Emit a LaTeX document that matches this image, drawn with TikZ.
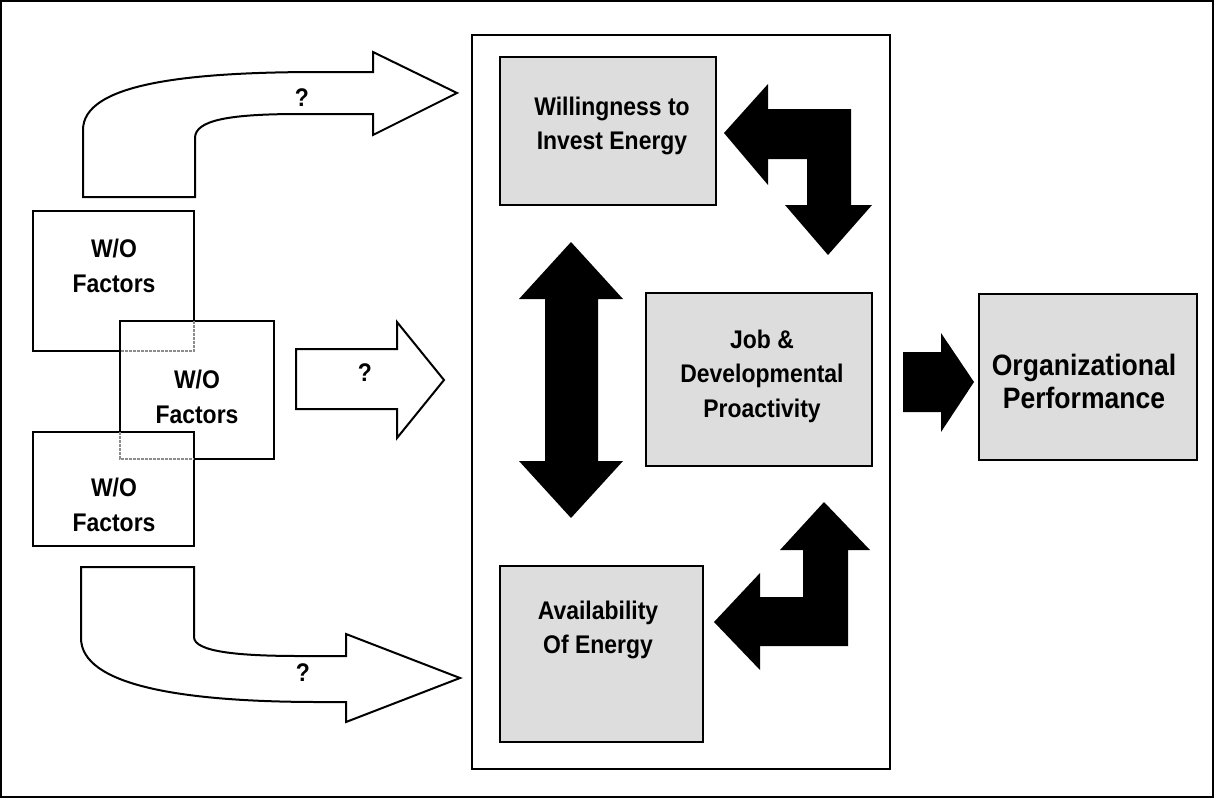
\documentclass[tikz,border=0pt]{standalone}
\usepackage{fontspec}
\setmainfont{Liberation Sans}
\newfontfamily\narrowsans{Liberation Sans}[FakeStretch=0.9]
\definecolor{boxgray}{RGB}{221,221,221}
\newcommand\diagfont{\narrowsans\bfseries\fontsize{25.5}{34.5}\selectfont}
\newcommand\orgfont{\narrowsans\bfseries\fontsize{29.5}{33}\selectfont}
\begin{document}
\begin{tikzpicture}[x=1pt,y=-1pt,
  frame/.style={draw=black, line width=2pt},
  box/.style={draw=black, line width=2pt, fill=white, outer sep=0pt, inner sep=0pt},
  graybox/.style={box, fill=boxgray},
  lbl/.style={align=center, font=\diagfont, inner sep=0pt},
  hollowarrow/.style={draw=black, line width=2pt, fill=white, line join=miter},
  solidarrow/.style={fill=black, draw=none},
  hidden/.style={draw=black!45, line width=1.5pt, dash pattern=on 3pt off 1pt}
]
\useasboundingbox (0,0) rectangle (1214,798);
\draw[frame] (1,1) rectangle (1213,797);

% central container
\node[box, fill=none, minimum width=418pt, minimum height=734pt] (core) at (681,402) {};

% stacked W/O factor boxes with their hidden edges
\node[box, minimum width=161pt, minimum height=140pt] (wo1) at (113.5,281) {};
\node[box, minimum width=154pt, minimum height=138pt] (wo2) at (197,390) {};
\draw[hidden] (wo1.east |- wo2.north) -- (wo1.south east) -- (wo1.south -| wo2.west);
\node[box, minimum width=161pt, minimum height=114pt] (wo3) at (113.5,489) {};
\draw[hidden] (wo2.west |- wo3.north) -- (wo2.south west) -- (wo2.south -| wo3.east);
\node[lbl] (wo1t) at (114,266) {W/O\\Factors};
\node[lbl] (wo2t) at (197,397) {W/O\\Factors};
\node[lbl] (wo3t) at (114,505) {W/O\\Factors};

% construct boxes
\node[graybox, minimum width=216pt, minimum height=148pt] (will) at (608,131) {};
\node[lbl] (willt) at (612,126) {Willingness to\\Invest Energy};
\node[graybox, minimum width=226pt, minimum height=173pt] (job) at (759,379.5) {};
\node[lbl] (jobt) at (762,376) {Job \&\\Developmental\\Proactivity};
\node[graybox, minimum width=203pt, minimum height=176pt] (avail) at (601.5,654) {};
\node[lbl] (availt) at (598,630) {Availability\\Of Energy};
\node[graybox, minimum width=218pt, minimum height=166pt] (org) at (1088,377) {};
\node[lbl, font=\orgfont] (orgt) at (1084,381) {Organizational\\Performance};

% hollow arrows from the factors
\draw[hollowarrow] (83,197) -- (83,130) .. controls (83,85) and (180,72) .. (320,72)
  -- (373,72) -- (373,52) -- (457,93) -- (373,135) -- (373,114) -- (300,114)
  .. controls (230,114) and (195,120) .. (195,138) -- (195,197) -- cycle;
\draw[hollowarrow] (296,349) -- (397,349) -- (397,322) -- (444,380) -- (397,438)
  -- (397,409) -- (296,409) -- cycle;
\draw[hollowarrow] (81,567) -- (194,567) -- (194,637) .. controls (194,652) and (240,656) .. (300,656)
  -- (346,656) -- (346,634) -- (460,678) -- (346,722) -- (346,702) -- (320,702)
  .. controls (180,702) and (81,685) .. (81,638) -- cycle;
\node[lbl] (q1) at (302,98) {?};
\node[lbl] (q2) at (365,373) {?};
\node[lbl] (q3) at (303,673) {?};

% solid arrows inside the container
\fill[solidarrow] (571,242) -- (623,299) -- (598,299) -- (598,461) -- (623,461) -- (571,518)
  -- (519,461) -- (545,461) -- (545,299) -- (519,299) -- cycle;
\fill[solidarrow] (724,133) -- (768,84) -- (768,109) -- (851,109) -- (851,205) -- (872,205)
  -- (828,255) -- (785,205) -- (807,205) -- (807,159) -- (768,159) -- (768,185) -- cycle;
\fill[solidarrow] (824,502) -- (870,550) -- (848,550) -- (848,646) -- (760,646) -- (760,670)
  -- (714,622) -- (760,573) -- (760,597) -- (803,597) -- (803,550) -- (780,550) -- cycle;
\fill[solidarrow] (903,352) -- (941,352) -- (941,333) -- (974,382) -- (941,432) -- (941,412)
  -- (903,412) -- cycle;
\end{tikzpicture}
\end{document}
